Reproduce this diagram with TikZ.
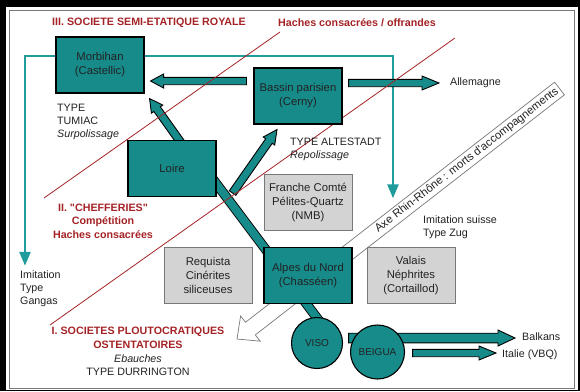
\documentclass[tikz,border=0pt]{standalone}
\usepackage{fontspec}
\setmainfont{Liberation Sans}
\usetikzlibrary{arrows.meta, calc, positioning}
\definecolor{canard}{RGB}{23,138,138}
\definecolor{canardclair}{RGB}{32,156,156}
\definecolor{rougetitre}{RGB}{165,35,38}
\definecolor{grisfond}{RGB}{211,211,211}
\definecolor{grisbord}{RGB}{120,120,120}
\definecolor{encre}{RGB}{34,34,34}
\pgfdeclarelayer{fond}
\pgfdeclarelayer{dessous}
\pgfsetlayers{fond,dessous,main}

% fleche pleine : [style]{depart}{arrivee}{demi-corps}{demi-tete}{longueur tete}
\newcommand{\fleche}[6][]{%
  \path (#2) coordinate (fl-a) (#3) coordinate (fl-b);
  \path ($(fl-b)!#6!(fl-a)$) coordinate (fl-t);
  \draw[flechepleine,#1] ($(fl-a)!#4!90:(fl-b)$) -- ($(fl-t)!#4!-90:(fl-a)$)
    -- ($(fl-t)!#5!-90:(fl-a)$) -- (fl-b) -- ($(fl-t)!#5!90:(fl-a)$)
    -- ($(fl-t)!#4!90:(fl-a)$) -- ($(fl-a)!#4!-90:(fl-b)$) -- cycle;
}

\begin{document}
\begin{tikzpicture}[x=1pt, y=-1pt,
    boite/.style={draw=black, line width=1.1pt, fill=canard, text=encre,
      minimum width=88pt, minimum height=56pt, inner sep=0pt, align=center,
      font=\fontsize{11.3}{14}\selectfont},
    grise/.style={boite, draw=grisbord, line width=0.8pt, fill=grisfond},
    rond/.style={circle, draw=black, line width=1.1pt, fill=canard, text=encre,
      inner sep=0pt, font=\fontsize{10}{12}\selectfont},
    etiquette/.style={inner sep=0pt, text=encre, align=left,
      font=\fontsize{10.7}{13}\selectfont},
    titre/.style={inner sep=0pt, text=rougetitre, align=center,
      font=\bfseries\fontsize{10.7}{13.5}\selectfont},
    flechepleine/.style={draw=black, line width=0.9pt, fill=canard},
    bande/.style={draw=grisbord, line width=0.7pt, fill=white},
    trajet/.style={draw=canardclair, line width=2.5pt},
    barre/.style={draw=black, line width=0.9pt, double=canard, double distance=8pt},
    limite/.style={draw=rougetitre, line width=0.8pt}]
  % cadre
  \begin{pgfonlayer}{fond}
    \fill[black] (0,0) rectangle (580,391);
    \fill[white] (6,7) rectangle (578,390);
    \draw[grisbord, line width=0.8pt] (9,10) rectangle (574,388);
  \end{pgfonlayer}

  % centres de production
  \node[boite] (morbihan) at (100,65) {Morbihan\\(Castellic)};
  \node[boite] (bassin) at (298,96) {Bassin parisien\\(Cerny)};
  \node[boite] (loire) at (172,168.5) {Loire};
  \node[boite] (alpes) at (308,275.5) {Alpes du Nord\\(Chasséen)};
  \node[grise, above=16pt of alpes] (franche) {Franche Comté\\Pélites-Quartz\\(NMB)};
  \node[grise, left=11pt of alpes] (requista) {Requista\\Cinérites\\siliceuses};
  \node[grise, right=14pt of alpes] (valais) {Valais\\Néphrites\\(Cortaillod)};
  \node[rond, minimum size=51pt] (viso) at (317,343) {VISO};
  \node[rond, minimum size=54pt] (beigua) at (377.5,352) {BEIGUA};

  % titres des niveaux
  \node[titre, anchor=west] (niveau3) at (52,23) {III. SOCIETE SEMI-ETATIQUE ROYALE};
  \node[titre, anchor=west] (offrandes) at (278,23) {Haches consacrées / offrandes};
  \node[titre] (niveau2) at (103,221) {II. \textquotedbl CHEFFERIES\textquotedbl\\Compétition\\Haches consacrées};
  \node[titre] (niveau1) at (138,338) {I. SOCIETES PLOUTOCRATIQUES\\OSTENTATOIRES};
  \node[etiquette, align=center] (durrington) at (138,365) {\textit{Ebauches}\\TYPE DURRINGTON};

  % etiquettes
  \node[etiquette, anchor=west] (tumiac) at (57,122) {TYPE\\TUMIAC\\\textit{Surpolissage}};
  \node[etiquette, anchor=west] (altestadt) at (290,149.5) {TYPE ALTESTADT\\\textit{Repolissage}};
  \node[etiquette, anchor=west] (allemagne) at (450,83) {Allemagne};
  \node[etiquette, anchor=west] (gangas) at (20,289) {Imitation\\Type\\Gangas};
  \node[etiquette, anchor=west] (zug) at (423,227) {Imitation suisse\\Type Zug};
  \node[etiquette, anchor=west] (balkans) at (522,337) {Balkans};
  \node[etiquette, anchor=west] (italie) at (502,355) {Italie (VBQ)};

  \begin{pgfonlayer}{dessous}
    % diffusion du type Tumiac
    \coordinate (coinG) at (25,56);
    \coordinate (coinD) at (393,56);
    \draw[trajet, {Triangle[width=11pt,length=14pt]}-{Triangle[width=11pt,length=14pt]}]
      ($(gangas.north west)+(5,-5)$) -- (coinG) -- (coinD) -- ($(zug.north west)+(-30,-17)$);
    % axe Rhin-Rhone
    \coordinate (axe-haut) at (559.5,88.5);
    \coordinate (axe-bas) at (237,339);
    \fleche[bande]{axe-haut}{axe-bas}{8pt}{16pt}{17pt}
    \path (axe-bas) -- (axe-haut) node[sloped, pos=.713, inner sep=0pt, text=encre,
      font=\fontsize{11.3}{13}\selectfont] (axe) {Axe Rhin-Rhône : morts d\textquotesingle accompagnements};
    % Loire - Alpes - Viso
    \draw[barre] ($(loire.center)+(33,0)$) -- ($(viso.north)+(3,5)$);
    % circulations
    \fleche{$(bassin.west)+(-7,-15)$}{$(morbihan.east)+(6,16)$}{3.7pt}{7pt}{13pt}
    \fleche{$(bassin.east)+(6,-13)$}{$(allemagne.west)+(-11,0)$}{3.7pt}{7pt}{17pt}
    \fleche{$(loire.north)+(12,7)$}{$(morbihan.south east)+(5,5)$}{4pt}{7pt}{13pt}
    \fleche{$(loire.south east)+(16,-4)$}{$(bassin.south)+(-21,5)$}{4pt}{7pt}{14pt}
    \fleche{$(viso.east)+(5.5,-5)$}{$(balkans.west)+(-7,1)$}{4.8pt}{8pt}{17pt}
    \fleche{$(beigua.east)+(7.5,1)$}{$(italie.west)+(-6,-2)$}{3.7pt}{7pt}{17pt}
    % limites entre niveaux
    \draw[limite] (280,32) -- (44,198);
    \draw[limite] (455,38) -- (50,325);
  \end{pgfonlayer}
\end{tikzpicture}
\end{document}
